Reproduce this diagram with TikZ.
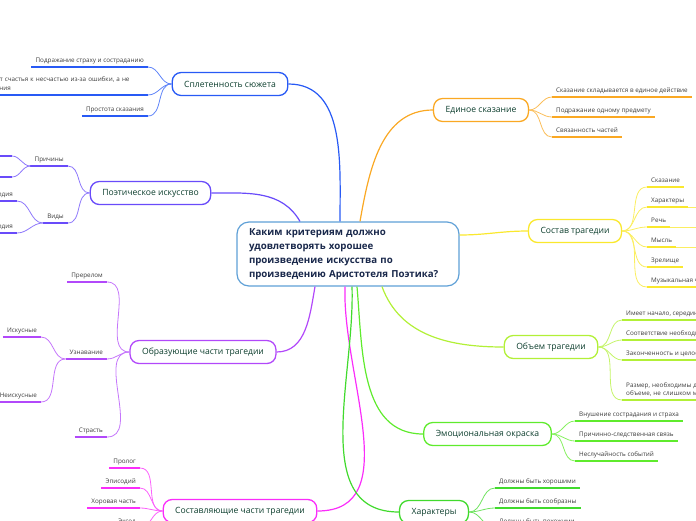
\documentclass[tikz,border=0pt]{standalone}
\usepackage{fontspec}
\setmainfont{Open Sans}
\usepackage{tikz}
\usetikzlibrary{positioning, calc}
\definecolor{cBlue}{RGB}{40,90,245}
\definecolor{cViolet}{RGB}{105,75,250}
\definecolor{cPurple}{RGB}{178,72,250}
\definecolor{cMagenta}{RGB}{250,45,250}
\definecolor{cOrange}{RGB}{250,168,35}
\definecolor{cYellow}{RGB}{250,232,45}
\definecolor{cLime}{RGB}{178,240,55}
\definecolor{cGreen}{RGB}{95,235,45}
\definecolor{cGreenB}{RGB}{65,218,45}
\definecolor{rootline}{RGB}{95,160,215}
\definecolor{roottext}{RGB}{25,40,75}
\definecolor{topictext}{RGB}{12,62,45}
\definecolor{leaftext}{RGB}{60,60,60}

\begin{document}
\begin{tikzpicture}[x=1pt, y=-1pt,
    topic/.style={draw=#1, line width=1.3pt, fill=white, rounded corners=9pt,
      minimum height=23pt, inner xsep=12pt, font=\fontsize{8.6}{10}\selectfont, text=topictext},
    leaf/.style={font=\fontsize{6.3}{8.6}\selectfont, text=leaftext, inner xsep=4pt,
      inner ysep=3pt, text depth=1.5pt,
      append after command={(\tikzlastnode.south west) edge[draw=#1, line width=2.2pt] (\tikzlastnode.south east)}},
    link/.style={draw=#1!75, line width=0.8pt},
    trunk/.style={draw=#1, line width=1.2pt}]
  \useasboundingbox (0,0) rectangle (696,520);
  \clip (0,0) rectangle (696,520);

  \node[draw=rootline, line width=1.2pt, fill=white, rounded corners=12pt, text width=198pt,
    inner xsep=12pt, minimum height=64pt, align=left, text=roottext,
    font=\fontsize{9.7}{14}\selectfont\bfseries] (root) at (348,254)
    {Каким критериям должно\\удовлетворять хорошее\\произведение искусства по\\произведению Аристотеля Поэтика?};

  % left side
  \node[topic=cBlue] (splet) at (230,84) {Сплетенность сюжета};
  \node[topic=cViolet] (poet) at (150.5,193) {Поэтическое искусство};
  \node[topic=cPurple] (obraz) at (203,352) {Образующие части трагедии};
  \node[topic=cMagenta] (sost) at (240,511) {Составляющие части трагедии};
  % right side
  \node[topic=cOrange] (edin) at (481,110) {Единое сказание};
  \node[topic=cYellow] (sostav) at (575,231) {Состав трагедии};
  \node[topic=cLime] (obem) at (551,347) {Объем трагедии};
  \node[topic=cGreen] (emo) at (487.5,434) {Эмоциональная окраска};
  \node[topic=cGreenB] (har) at (434,512) {Характеры};

  \draw[trunk=cBlue] ([xshift=-8pt]root.north) to[out=90,in=0] (splet.east);
  \draw[trunk=cViolet] ([xshift=-48pt]root.north) to[out=120,in=0] (poet.east);
  \draw[trunk=cPurple] ([xshift=-33pt]root.south) to[out=-100,in=0] (obraz.east);
  \draw[trunk=cMagenta] ([xshift=-3pt]root.south) to[out=-92,in=0] (sost.east);
  \draw[trunk=cOrange] ([xshift=12pt]root.north) to[out=80,in=180] (edin.west);
  \draw[trunk=cYellow] ([yshift=19pt]root.east) to[out=0,in=180] (sostav.west);
  \draw[trunk=cLime] ([xshift=34pt]root.south) to[out=-70,in=180] (obem.west);
  \draw[trunk=cGreen] ([xshift=9pt]root.south) to[out=-85,in=180] (emo.west);
  \draw[trunk=cGreenB] ([xshift=4pt]root.south) to[out=-88,in=180] (har.west);

  % Сплетенность сюжета
  \node[leaf=cBlue, anchor=south east] (sp1) at (148,67) {Подражание страху и состраданию};
  \node[leaf=cBlue, anchor=south east, text width=176pt, align=left, text depth={}] (sp2) at (148,95)
    {Переход от счастья к несчастью из-за ошибки, а не\\преступления};
  \node[leaf=cBlue, anchor=south east] (sp3) at (148,116) {Простота сказания};
  \foreach \n in {sp1,sp2,sp3}
    \draw[link=cBlue] (splet.west) to[out=180,in=0] (\n.south east);

  % Поэтическое искусство
  \node[leaf=cViolet, anchor=south east] (pr) at (68,166) {Причины};
  \node[leaf=cViolet, anchor=south east] (vid) at (68,223) {Виды};
  \node[leaf=cViolet, anchor=south east, minimum width=40pt] (pr1) at (12,156) {};
  \node[leaf=cViolet, anchor=south east, minimum width=40pt] (pr2) at (12,177) {};
  \node[leaf=cViolet, anchor=south east] (vid1) at (17,201) {Трагедия};
  \node[leaf=cViolet, anchor=south east] (vid2) at (17,233) {Комедия};
  \foreach \n in {pr,vid}
    \draw[link=cViolet] (poet.west) to[out=180,in=0] (\n.south east);
  \foreach \n in {pr1,pr2}
    \draw[link=cViolet] (pr.south west) to[out=180,in=0] (\n.south east);
  \foreach \n in {vid1,vid2}
    \draw[link=cViolet] (vid.south west) to[out=180,in=0] (\n.south east);

  % Образующие части трагедии
  \node[leaf=cPurple, anchor=south east] (ob1) at (107,282) {Пререлом};
  \node[leaf=cPurple, anchor=south east] (ob2) at (107,359) {Узнавание};
  \node[leaf=cPurple, anchor=south east] (ob3) at (107,437) {Страсть};
  \node[leaf=cPurple, anchor=south east] (uz1) at (41,337) {Искусные};
  \node[leaf=cPurple, anchor=south east] (uz2) at (41,402) {Неискусные};
  \foreach \n in {ob1,ob2,ob3}
    \draw[link=cPurple] (obraz.west) to[out=180,in=0] (\n.south east);
  \foreach \n in {uz1,uz2}
    \draw[link=cPurple] (ob2.south west) to[out=180,in=0] (\n.south east);

  % Составляющие части трагедии
  \node[leaf=cMagenta, anchor=south east] (so1) at (140,468) {Пролог};
  \node[leaf=cMagenta, anchor=south east] (so2) at (140,488) {Эписодий};
  \node[leaf=cMagenta, anchor=south east] (so3) at (140,508) {Хоровая часть};
  \node[leaf=cMagenta, anchor=south east] (so4) at (140,528) {Эксод};
  \foreach \n in {so1,so2,so3,so4}
    \draw[link=cMagenta] (sost.west) to[out=180,in=0] (\n.south east);

  % Единое сказание
  \node[leaf=cOrange, anchor=south west] (ed1) at (552,97) {Сказание складывается в единое действие};
  \node[leaf=cOrange, anchor=south west] (ed2) at (552,117) {Подражание одному предмету};
  \node[leaf=cOrange, anchor=south west] (ed3) at (552,137) {Связанность частей};
  \foreach \n in {ed1,ed2,ed3}
    \draw[link=cOrange] (edin.east) to[out=0,in=180] (\n.south west);

  % Состав трагедии
  \node[leaf=cYellow, anchor=south west] (st1) at (647,187) {Сказание};
  \node[leaf=cYellow, anchor=south west] (st2) at (647,207) {Характеры};
  \node[leaf=cYellow, anchor=south west] (st3) at (647,227) {Речь};
  \node[leaf=cYellow, anchor=south west] (st4) at (647,247) {Мысль};
  \node[leaf=cYellow, anchor=south west] (st5) at (647,267) {Зрелище};
  \node[leaf=cYellow, anchor=south west] (st6) at (647,287) {Музыкальная часть};
  \foreach \n in {st1,st2,st3,st4,st5,st6}
    \draw[link=cYellow] (sostav.east) to[out=0,in=180] (\n.south west);
  \coordinate (st2x) at (700,207);
  \coordinate (st3x) at (700,227);
  \coordinate (st4x) at (700,247);
  \foreach \n in {st2,st3,st4}
    \draw[link=cYellow] (\n.south east) -- (\n x);

  % Объем трагедии
  \node[leaf=cLime, anchor=south west] (v1) at (622,320) {Имеет начало, середину и конец};
  \node[leaf=cLime, anchor=south west] (v2) at (622,340) {Соответствие необходимости};
  \node[leaf=cLime, anchor=south west] (v3) at (622,360) {Законченность и целостность};
  \node[leaf=cLime, anchor=south west, text width=150pt, align=left, text depth={}] (v4) at (622,400)
    {Размер, необходимы для восприятия в\\объеме, не слишком малый};
  \foreach \n in {v1,v2,v3,v4}
    \draw[link=cLime] (obem.east) to[out=0,in=180] (\n.south west);

  % Эмоциональная окраска
  \node[leaf=cGreen, anchor=south west] (em1) at (575,421) {Внушение сострадания и страха};
  \node[leaf=cGreen, anchor=south west] (em2) at (575,441) {Причинно-следственная связь};
  \node[leaf=cGreen, anchor=south west] (em3) at (575,461) {Неслучайность событий};
  \foreach \n in {em1,em2,em3}
    \draw[link=cGreen] (emo.east) to[out=0,in=180] (\n.south west);

  % Характеры
  \node[leaf=cGreenB, anchor=south west] (h1) at (495,488) {Должны быть хорошими};
  \node[leaf=cGreenB, anchor=south west] (h2) at (495,508) {Должны быть сообразны};
  \node[leaf=cGreenB, anchor=south west] (h3) at (495,528) {Должны быть похожими};
  \foreach \n in {h1,h2,h3}
    \draw[link=cGreenB] (har.east) to[out=0,in=180] (\n.south west);
\end{tikzpicture}
\end{document}
